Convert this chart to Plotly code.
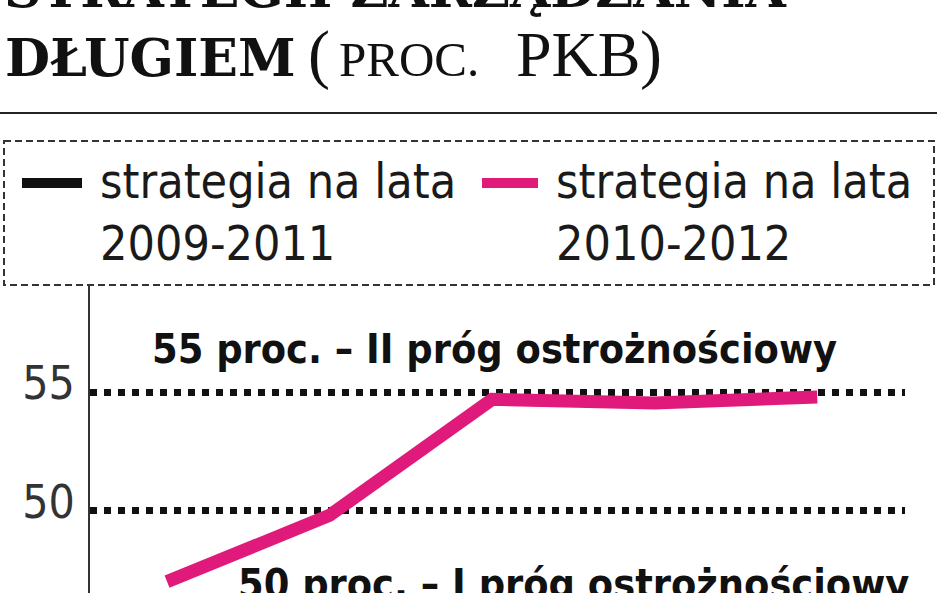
import plotly.graph_objects as go

# data (debt, % of GDP)
years = [2008, 2009, 2010, 2011, 2012]
debt_2010_2012 = [47.0, 49.8, 54.7, 54.55, 54.8]
series_names = ['strategia na lata<br>2009-2011', 'strategia na lata<br>2010-2012']
series_colors = ['#111111', '#e01a7b']
threshold_values = [55, 50]
threshold_labels = ['55 proc. – II próg ostrożnościowy', '50 proc. – I próg ostrożnościowy']

W, H = 948, 593
ML, MR, MT, MB = 90, 43, 285, 0

def px(x):  # pixel -> paper x
    return (x - ML) / (W - ML - MR)

def py(y):  # pixel -> paper y
    return (H - MB - y) / (H - MT - MB)

COND = 'DejaVu Sans Condensed, sans-serif'

fig = go.Figure()
fig.add_trace(go.Scatter(
    x=years, y=debt_2010_2012,
    mode='lines',
    line=dict(color=series_colors[1], width=13),
    name=series_names[1],
    showlegend=False,
    hoverinfo='skip',
))

shapes = []
annotations = []

# title (first line is cut by the top edge, as in the clipping)
annotations.append(dict(text='<b>STRATEGII ZARZĄDZANIA</b>', x=px(2), y=py(21),
                        font=dict(family='DejaVu Serif', size=52, color='#111')))
annotations.append(dict(text='<b>DŁUGIEM</b>', x=px(3), y=py(90),
                        font=dict(family='DejaVu Serif', size=52, color='#111')))
for txt, tx, size, by in [('(', 306, 66, 93), ('PROC.', 337, 49, 89), ('PKB', 514, 64, 92), (')', 638, 66, 93)]:
    annotations.append(dict(text=txt, x=px(tx), y=py(by),
                            font=dict(family='Liberation Serif', size=size, color='#111')))
shapes.append(dict(type='line', x0=px(0), x1=px(937), y0=py(113), y1=py(113),
                   line=dict(color='#222', width=2)))

# legend box
shapes.append(dict(type='rect', x0=px(4), x1=px(934), y0=py(141), y1=py(285),
                   line=dict(color='#333', width=2, dash='7px,4px')))
for name, color, x0, x1, tx in zip(series_names, series_colors, [22, 482], [82, 538], [98, 554]):
    shapes.append(dict(type='line', x0=px(x0), x1=px(x1), y0=py(183), y1=py(183),
                       line=dict(color=color, width=10)))
    annotations.append(dict(text=name, x=px(tx), y=py(273), align='left',
                            font=dict(family=COND, size=48, color='#1a1a1a')))

# threshold labels
for label, lx, by in zip(threshold_labels, [150, 236], [375, 610]):
    annotations.append(dict(text='<b>' + label + '</b>', x=px(lx), y=py(by),
                            font=dict(family=COND, size=41, color='#111')))

for a in annotations:
    a.update(xref='paper', yref='paper', xanchor='left', yanchor='bottom', showarrow=False)
for s in shapes:
    s.update(xref='paper', yref='paper', layer='above')

fig.update_layout(
    width=W, height=H,
    margin=dict(l=ML, r=MR, t=MT, b=MB),
    paper_bgcolor='white', plot_bgcolor='white',
    showlegend=False,
    shapes=shapes,
    annotations=annotations,
    xaxis=dict(range=[2007.526, 2012.54], visible=False),
    yaxis=dict(
        range=[46.52, 59.53],
        tickvals=threshold_values,
        showgrid=True, gridcolor='#111', gridwidth=7, griddash='dot',
        zeroline=False,
        showline=True, linecolor='#333', linewidth=2,
        ticks='', ticklabelstandoff=4, ticklabelshift=-9,
        tickfont=dict(family=COND, size=46, color='#333'),
    ),
)

fig.write_html("out.html", config={'displayModeBar': False},
               post_script="document.body.style.margin='0';")
